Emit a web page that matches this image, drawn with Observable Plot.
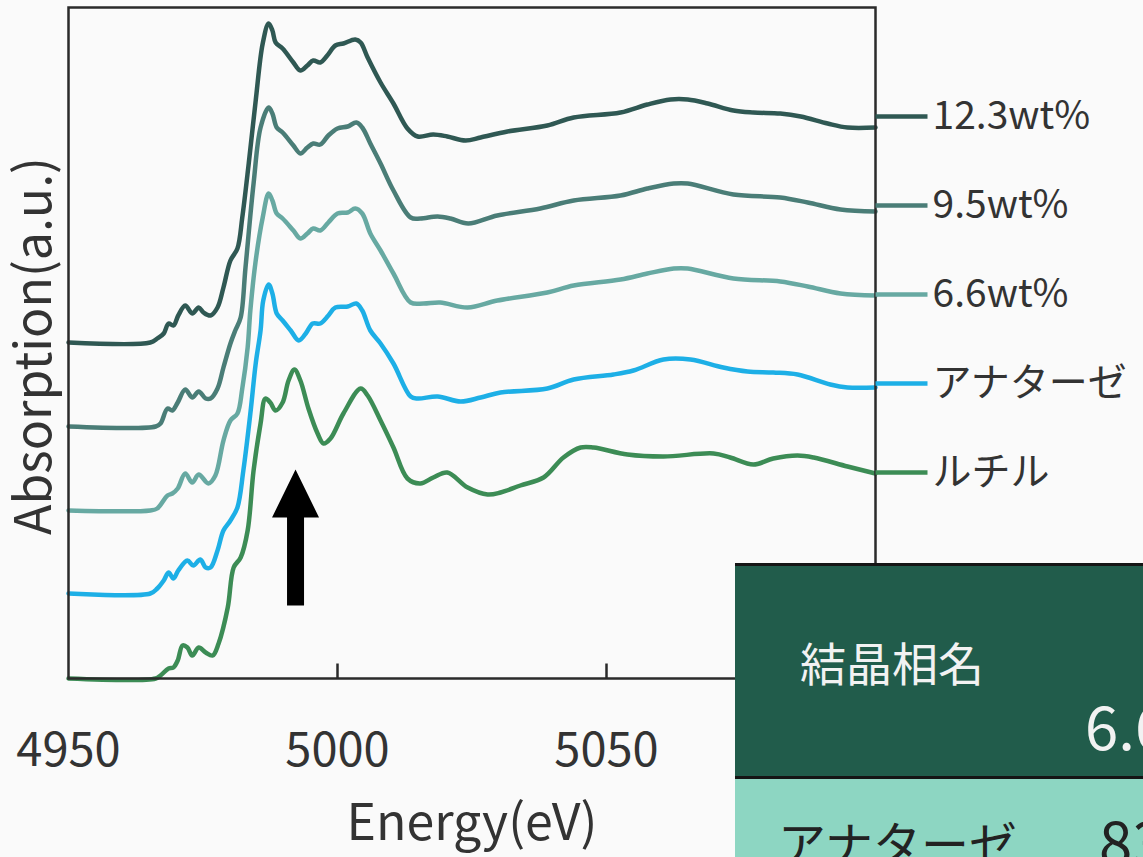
<!DOCTYPE html>
<html><head><meta charset="utf-8">
<script src="https://cdn.jsdelivr.net/npm/d3@7"></script>
<script src="https://cdn.jsdelivr.net/npm/@observablehq/plot@0.6"></script>
<style>
html,body{margin:0;padding:0;background:#fafafa;overflow:hidden;width:1143px;height:857px;}
#wrap{position:relative;width:1143px;height:857px;overflow:hidden;font-family:"Noto Sans CJK JP","Noto Sans",sans-serif;}
#chart{position:absolute;left:0;top:0;}
#tbl{position:absolute;left:735px;top:563px;width:700px;}
.hdr{position:relative;height:210px;background:#215C4B;border-top:3px solid #151515;border-bottom:3px solid #151515;}
.row{position:relative;height:200px;background:#8DD6C2;}
.cell{position:absolute;line-height:1;white-space:nowrap;}
</style></head>
<body><div id="wrap"><div id="chart"></div>
<div id="tbl">
  <div class="hdr"><span class="cell" id="h1"></span><span class="cell" id="h2"></span></div>
  <div class="row"><span class="cell" id="r1"></span><span class="cell" id="r2"></span></div>
</div></div>
<script>
// ---- data (energy eV, absorption a.u., stacked as drawn) ----
const seriesNames = ["12.3wt%", "9.5wt%", "6.6wt%", "アナターゼ", "ルチル"];
const seriesColors = ["#2F5853", "#4A7D77", "#67A9A2", "#1DAFE6", "#3C8C55"];
const s123 = [[4950,3.36],[4965.2,3.36],[4966.5,3.40],[4967.7,3.45],[4968.6,3.55],[4969.5,3.53],[4970.4,3.63],[4971.7,3.73],[4973.0,3.65],[4974.2,3.71],[4975.1,3.66],[4976.4,3.63],[4977.7,3.71],[4978.8,3.91],[4980.1,4.18],[4981.4,4.30],[4982.3,4.61],[4983.5,5.15],[4984.8,5.78],[4986.1,6.35],[4987.2,6.55],[4987.9,6.48],[4988.5,6.36],[4989.8,6.30],[4991.8,6.16],[4993.1,6.08],[4994.4,6.13],[4995.5,6.18],[4996.8,6.16],[4998.1,6.23],[4999.6,6.33],[5001.1,6.35],[5003.3,6.39],[5004.3,6.36],[5005.6,6.21],[5008.0,5.96],[5010.4,5.75],[5013.0,5.50],[5014.9,5.42],[5017.8,5.44],[5020.4,5.42],[5023.8,5.38],[5026.6,5.41],[5031.6,5.47],[5039.0,5.53],[5043.9,5.61],[5052.6,5.66],[5057.6,5.74],[5061.9,5.79],[5065.1,5.79],[5068.8,5.75],[5073.6,5.68],[5077.3,5.66],[5082.3,5.65],[5086.1,5.62],[5091.1,5.55],[5094.8,5.51],[5100,5.51]];
const s95 = [[4950,2.52],[4966.2,2.52],[4967.1,2.55],[4968.4,2.70],[4969.3,2.68],[4970.3,2.76],[4971.7,2.89],[4973.0,2.81],[4974.2,2.87],[4975.5,2.80],[4976.4,2.80],[4977.7,2.90],[4978.8,3.11],[4980.1,3.35],[4981.0,3.48],[4982.0,3.61],[4982.9,4.11],[4984.4,4.95],[4985.7,5.51],[4987.2,5.71],[4987.9,5.65],[4988.7,5.51],[4989.8,5.46],[4991.8,5.33],[4993.1,5.25],[4994.4,5.31],[4995.5,5.35],[4996.8,5.34],[4998.3,5.43],[5000.0,5.50],[5001.9,5.52],[5003.5,5.56],[5004.6,5.51],[5006.1,5.35],[5008.0,5.15],[5010.4,4.88],[5013.6,4.61],[5015.4,4.60],[5018.6,4.62],[5021.0,4.60],[5024.3,4.55],[5029.7,4.63],[5037.7,4.70],[5043.9,4.78],[5052.6,4.83],[5057.6,4.90],[5062.5,4.95],[5065.1,4.95],[5073.6,4.84],[5082.3,4.81],[5087.4,4.76],[5093.5,4.69],[5100,4.67]];
const s66 = [[4950,1.68],[4965.2,1.68],[4966.5,1.70],[4968.4,1.83],[4969.3,1.85],[4970.3,1.90],[4971.7,2.05],[4973.0,1.96],[4974.2,2.04],[4976.0,1.95],[4977.3,2.03],[4978.8,2.38],[4980.1,2.58],[4981.4,2.65],[4982.3,2.90],[4983.3,3.31],[4983.8,3.68],[4984.8,4.18],[4986.1,4.61],[4987.2,4.85],[4987.9,4.78],[4988.7,4.65],[4989.8,4.60],[4991.8,4.48],[4993.1,4.40],[4994.4,4.45],[4995.5,4.50],[4996.8,4.48],[4998.3,4.56],[5000.0,4.65],[5001.9,4.66],[5003.3,4.70],[5004.6,4.65],[5006.1,4.45],[5008.0,4.28],[5010.4,4.05],[5013.6,3.76],[5016.0,3.75],[5019.1,3.76],[5024.2,3.71],[5029.7,3.78],[5039.0,3.86],[5043.9,3.93],[5052.6,3.99],[5057.6,4.05],[5062.5,4.10],[5065.1,4.10],[5073.6,4.00],[5082.3,3.97],[5087.4,3.92],[5093.5,3.85],[5100,3.83]];
const sAnatase = [[4950,0.85],[4965.2,0.85],[4966.5,0.90],[4967.7,0.98],[4968.6,1.06],[4969.5,1.00],[4970.4,1.08],[4972.1,1.18],[4973.2,1.13],[4974.5,1.19],[4975.5,1.11],[4976.4,1.11],[4977.7,1.28],[4978.8,1.48],[4980.1,1.58],[4981.4,1.71],[4982.5,2.08],[4983.8,2.65],[4984.8,3.15],[4985.7,3.48],[4986.2,3.78],[4987.2,3.94],[4987.9,3.85],[4988.7,3.65],[4989.8,3.58],[4991.3,3.48],[4992.8,3.38],[4994.1,3.45],[4995.4,3.55],[4996.8,3.55],[4998.3,3.63],[4999.6,3.71],[5001.9,3.72],[5003.5,3.75],[5004.6,3.68],[5006.1,3.48],[5008.0,3.35],[5010.4,3.15],[5013.6,2.82],[5014.9,2.80],[5018.6,2.82],[5022.9,2.77],[5026.6,2.81],[5030.3,2.86],[5039.0,2.90],[5043.9,2.99],[5051.3,3.04],[5055.0,3.08],[5060.6,3.19],[5065.6,3.19],[5071.7,3.11],[5076.2,3.07],[5081.0,3.06],[5085.5,3.04],[5091.6,2.94],[5094.8,2.91],[5100,2.91]];
const sRutile = [[4950,0],[4966.2,0],[4967.1,0.03],[4968.6,0.10],[4969.5,0.11],[4970.3,0.18],[4971.2,0.33],[4972.1,0.31],[4973.0,0.23],[4974.2,0.31],[4975.5,0.26],[4976.8,0.23],[4977.9,0.35],[4979.6,0.71],[4980.7,1.11],[4982.0,1.21],[4983.3,1.48],[4984.4,2.08],[4985.7,2.55],[4986.6,2.80],[4987.5,2.76],[4988.5,2.68],[4989.8,2.76],[4990.9,2.98],[4992.0,3.09],[4993.1,2.98],[4994.6,2.70],[4996.3,2.45],[4997.4,2.35],[4998.7,2.40],[5001.1,2.65],[5004.3,2.90],[5005.6,2.83],[5008.0,2.58],[5010.4,2.31],[5013.0,2.00],[5015.4,1.95],[5017.8,2.01],[5020.4,2.06],[5024.2,1.91],[5027.9,1.84],[5030.3,1.86],[5034.0,1.93],[5038.3,2.01],[5042.0,2.21],[5045.2,2.31],[5047.6,2.31],[5053.9,2.24],[5060.6,2.22],[5069.9,2.25],[5073.0,2.21],[5077.3,2.14],[5081.0,2.20],[5085.5,2.23],[5088.5,2.21],[5094.8,2.12],[5100,2.05]];
const seriesValues = [s123, s95, s66, sAnatase, sRutile];
const legendY = [5.62, 4.73, 3.84, 2.95, 2.06];
const xTicks = [4950, 5000, 5050];
const xDomain = [4950, 5100];
const yDomain = [0, 6.71];
const arrowAt = [{x: 4992.2, yTip: 2.09}];
const xLabel = "Energy(eV)";
const yLabel = "Absorption(a.u.)";
const tableHeader = ["結晶相名", "6.6wt%"];
const tableRow = ["アナターゼ", "83"];

// ---- build ----
const data = [];
seriesNames.forEach((name, i) => seriesValues[i].forEach(([x, y]) => data.push({name, x, y})));
const legend = seriesNames.map((name, i) => ({name, y: legendY[i]}));

const legendSymbol = {draw(ctx) { ctx.moveTo(0, 0); ctx.lineTo(52, 0); }};
const tickSymbol = {draw(ctx) { ctx.moveTo(0, 0); ctx.lineTo(0, -15); }};
const arrowSymbol = {draw(ctx) {
  ctx.moveTo(0, 0); ctx.lineTo(-23.5, 48); ctx.lineTo(-8.5, 48); ctx.lineTo(-8.5, 136);
  ctx.lineTo(8.5, 136); ctx.lineTo(8.5, 48); ctx.lineTo(23.5, 48); ctx.closePath();
}};
const font = "'Noto Sans CJK JP', 'Noto Sans', sans-serif";

const chart = Plot.plot({
  width: 1143, height: 857,
  marginLeft: 68, marginRight: 268, marginTop: 7, marginBottom: 179,
  style: {background: "transparent", fontFamily: font, color: "#333", overflow: "visible"},
  x: {domain: xDomain, axis: null},
  y: {domain: yDomain, axis: null},
  color: {domain: seriesNames, range: seriesColors},
  marks: [
    Plot.line(data, {x: "x", y: "y", z: "name", stroke: "name", strokeWidth: 4.5, curve: "catmull-rom", strokeLinejoin: "round", strokeLinecap: "round"}),
    Plot.frame({stroke: "#2a2a2a", strokeWidth: 2.5}),
    Plot.dot(xTicks.slice(1), {x: d => d, y: () => yDomain[0], symbol: tickSymbol, stroke: "#2a2a2a", strokeWidth: 2.5, fill: "none"}),
    Plot.text(xTicks, {x: d => d, y: () => yDomain[0], text: d => String(d), dy: 72, fontSize: 47, lineAnchor: "middle", fill: "#333"}),
    Plot.text([xLabel], {frameAnchor: "bottom", dy: 145, fontSize: 50, lineAnchor: "middle", textAnchor: "middle", fill: "#333"}),
    Plot.text([yLabel], {frameAnchor: "left", dx: -34, dy: 3, rotate: -90, fontSize: 50, lineAnchor: "middle", textAnchor: "middle", fill: "#333"}),
    Plot.dot(legend, {x: () => xDomain[1], y: "y", symbol: legendSymbol, stroke: "name", strokeWidth: 4.5, fill: "none"}),
    Plot.text(legend, {x: () => xDomain[1], y: "y", text: "name", dx: 57, textAnchor: "start", lineAnchor: "middle", fontSize: 39, fill: "#333"}),
    Plot.dot(arrowAt, {x: "x", y: "yTip", symbol: arrowSymbol, fill: "#000", stroke: "none"})
  ]
});
document.getElementById("chart").append(chart);

const h1 = document.getElementById("h1"), h2 = document.getElementById("h2");
const r1 = document.getElementById("r1"), r2 = document.getElementById("r2");
h1.textContent = tableHeader[0]; h2.textContent = tableHeader[1];
r1.textContent = tableRow[0]; r2.textContent = tableRow[1];
Object.assign(h1.style, {left: "65px", top: "72px", fontSize: "46px", color: "#f2f2f2"});
Object.assign(h2.style, {left: "350px", top: "128px", fontSize: "60px", color: "#f2f2f2"});
Object.assign(r1.style, {left: "43px", top: "38px", fontSize: "48px", color: "#222"});
Object.assign(r2.style, {left: "364px", top: "30px", fontSize: "60px", color: "#222"});
</script></body></html>
